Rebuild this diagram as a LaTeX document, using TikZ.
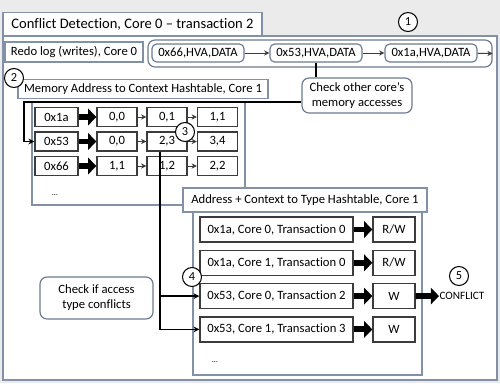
\documentclass[tikz,border=0pt]{standalone}
\usepackage{fontspec}
\setmainfont[Ligatures=NoCommon]{Carlito}
\usetikzlibrary{arrows.meta, calc}
\definecolor{cframe}{HTML}{8391A8}
\definecolor{cround}{HTML}{6B7A90}
\definecolor{cbox}{HTML}{3C3C3C}
\definecolor{cbg}{HTML}{EBEBEB}
\tikzset{
  every picture/.style={font=\fontsize{10.8}{13}\selectfont, line width=0.9pt},
  frame/.style={draw=cframe, line width=1.3pt},
  heading/.style={draw=cframe, fill=white, line width=1.3pt, inner sep=0pt, align=center},
  entry/.style={draw=cround, fill=white, line width=1pt, rounded corners=4pt, inner sep=0pt, minimum width=2.76cm, minimum height=0.54cm},
  note/.style={draw=cround, fill=white, line width=1pt, rounded corners=6pt, inner sep=0pt, align=center},
  cell/.style={draw=cbox, fill=white, line width=1.1pt, inner sep=0pt, minimum height=0.57cm},
  num/.style={circle, draw=black, fill=white, line width=0.9pt, inner sep=0pt, minimum size=0.57cm, font=\fontsize{10.5}{12}\selectfont},
  fat/.style={-{Triangle[length=7pt, width=14pt]}, line width=5pt, black},
  thin/.style={-{Stealth[length=4.5pt, width=4.5pt]}, line width=0.8pt, draw=cbox},
  link/.style={-{Stealth[length=5pt, width=5pt]}, line width=1.2pt, black},
}

\begin{document}
\begin{tikzpicture}[x=0.03cm, y=-0.03cm]
  \fill[cbg] (0,0) rectangle (500,383);
  \useasboundingbox (0,0) rectangle (500,383);
  \draw[frame, fill=white] (3,36) rectangle (497,380);
  \node[heading, minimum width=7.77cm, minimum height=0.69cm, font=\fontsize{12.4}{15}\selectfont] (title) at (132.5,24) {Conflict Detection, Core 0 -- transaction 2};
  \node[num] (n1) at (408,22) {1};

  % redo log of core 0
  \node[heading, minimum width=4.14cm, minimum height=0.6cm] (redo) at (74,52) {Redo log (writes), Core 0};
  \node[draw=cround, line width=1pt, rounded corners=6pt, minimum width=10.32cm, minimum height=0.81cm] (log) at (320,53.5) {};
  \node[entry] (e66) at (198,53) {0x66,HVA,DATA};
  \node[entry] (e53) at (316,53) {0x53,HVA,DATA};
  \node[entry] (e1a) at (431,53) {0x1a,HVA,DATA};
  \draw[thin] (e66) -- (e53);
  \draw[thin] (e53) -- (e1a);
  \draw[thin] (e1a) -- (log.east);
  \node[note, minimum width=3.3cm, minimum height=1.05cm] (check) at (357,95.5) {Check other core’s\\memory accesses};
  \draw[line width=1.2pt] (e53.south) -- (e53.south |- check.north);

  % memory address to context hashtable
  \draw[frame] (32,102) rectangle (245,205);
  \node[heading, minimum width=7.5cm, minimum height=0.57cm] (ht1) at (143,89) {Memory Address to Context Hashtable, Core 1};
  \node[num] (n2) at (14,78) {2};
  \foreach \k/\a/\b/\c [count=\i] in {1a/{0,0}/{0,1}/{1,1}, 53/{0,0}/{2,3}/{3,4}, 66/{1,1}/{1,2}/{2,2}} {
    \node[cell, minimum width=1.29cm] (k\k) at (56.5,{92.5+24.5*\i}) {0x\k};
    \node[cell, minimum width=1.2cm] (c\k-1) at (117,{92.5+24.5*\i}) {\a};
    \node[cell, minimum width=1.2cm] (c\k-2) at (167,{92.5+24.5*\i}) {\b};
    \node[cell, minimum width=1.2cm] (c\k-3) at (217.5,{92.5+24.5*\i}) {\c};
    \draw[fat] (k\k) -- (c\k-1);
    \draw[thin] (c\k-1) -- (c\k-2);
    \draw[thin] (c\k-2) -- (c\k-3);
  }
  \node[font=\scriptsize] (dots1) at (55,195) {\dots};
  \coordinate (turn) at (24,102);
  \draw[link] (check.west |- turn) -- (turn) |- (k53.west);

  % address + context to type hashtable
  \draw[frame] (193,212) rectangle (422,375);
  \node[heading, minimum width=7.32cm, minimum height=0.72cm] (ht2) at (305,200) {Address + Context to Type Hashtable, Core 1};
  \foreach \addr/\core/\tx/\typ [count=\i] in {1a/0/0/{R/W}, 1a/1/0/{R/W}, 53/0/2/W, 53/1/3/W} {
    \node[cell, minimum width=4.59cm, minimum height=0.75cm] (row\i) at (276.5,{196.2+33.3*\i}) {0x\addr, Core \core, Transaction \tx};
    \node[cell, minimum width=1.26cm, minimum height=0.75cm] (type\i) at (394,{196.2+33.3*\i}) {\typ};
    \draw[fat] (row\i) -- (type\i);
  }
  \node[font=\scriptsize] (dots2) at (215,362) {\dots};
  \coordinate (drop) at ($(c53-2.south)+(-7,0)$);
  \draw[link] (drop) |- (row3.west);
  \draw[link] (drop) |- (row4.west);
  \node[num] (n3) at (185,132) {3};
  \node[num] (n4) at (192,277) {4};
  \node[inner sep=0pt, anchor=west, font=\fontsize{9.6}{11}\selectfont] (conflict) at (439,296) {CONFLICT};
  \draw[fat] (type3) -- (conflict);
  \node[num] (n5) at (459,276) {5};
  \node[note, minimum width=3.39cm, minimum height=1.26cm] (access) at (96.5,298) {Check if access\\type conflicts};
\end{tikzpicture}
\end{document}
